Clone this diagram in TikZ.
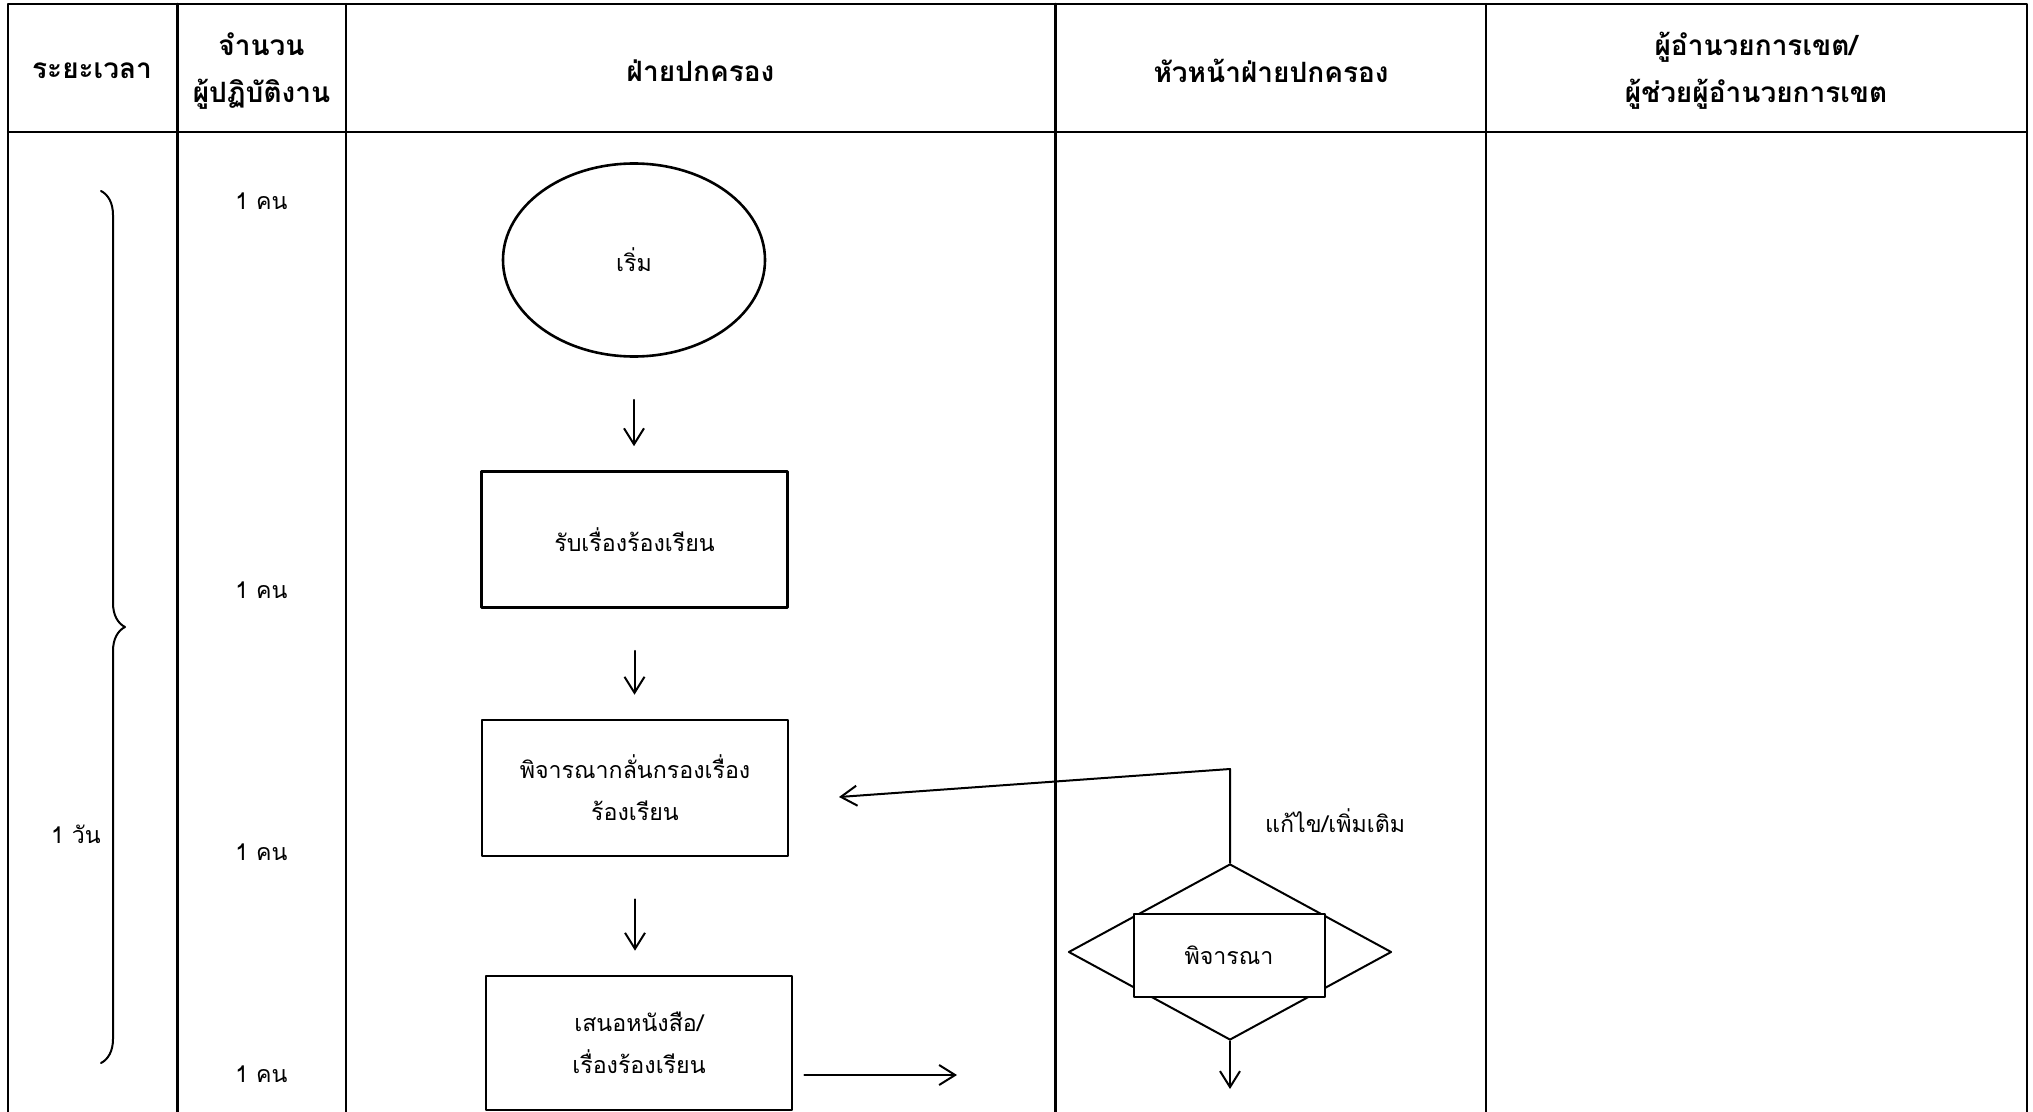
\documentclass[tikz,border=0pt]{standalone}
\usepackage{fontspec}
\setmainfont[Script=Thai]{Loma}
\usetikzlibrary{shapes.geometric,arrows.meta,decorations.pathreplacing}

\tikzset{
  lane/.style={line width=1.2pt},
  head/.style={font=\bfseries\fontsize{14}{23.5}\selectfont,align=center},
  txt/.style={font=\fontsize{11.6}{21}\selectfont,align=center},
  stepbox/.style={draw,line width=1.3pt,minimum width=153pt,minimum height=68pt,txt},
  flow/.style={-{Straight Barb[length=8pt,width=10pt]},line width=1pt},
  gap/.style={shorten <=21pt,shorten >=12pt},
}

\begin{document}
\begin{tikzpicture}[x=0.5pt,y=-0.5pt,line cap=round,line join=round]
  \useasboundingbox (0,0) rectangle (2033,1112);
  % table
  \draw[lane] (8,1112) -- (8,4) -- (2027,4) -- (2027,1112);
  \draw[lane] (8,132) -- (2027,132);
  \foreach \x in {177.5,346,1055.5,1486}
    \draw[lane] (\x,4) -- (\x,1112);

  \node[head] (hTime) at (92,71) {ระยะเวลา};
  \node[head] (hStaff) at (261.5,71) {จำนวน\\ผู้ปฏิบัติงาน};
  \node[head] (hAdmin) at (700.5,71) {ฝ่ายปกครอง};
  \node[head] (hChief) at (1271,71) {หัวหน้าฝ่ายปกครอง};
  \node[head] (hDir) at (1756,71) {ผู้อำนวยการเขต/\\ผู้ช่วยผู้อำนวยการเขต};

  % time and staff
  \draw[line width=1pt,decorate,decoration={brace,amplitude=12pt}] (101,191) -- (101,1063);
  \node[txt] (tDay) at (76,834) {1 วัน};
  \foreach \y/\n in {201/1,590/2,852/3,1074/4}
    \node[txt] (n\n) at (261.5,\y) {1 คน};

  % flow
  \node[draw,ellipse,line width=1.3pt,minimum width=131pt,minimum height=96.5pt,txt] (start) at (634,260) {เริ่ม};
  \node[stepbox] (recv) at (634.5,539.5) {รับเรื่องร้องเรียน};
  \node[stepbox] (screen) at (635,788) {พิจารณากลั่นกรองเรื่อง\\ร้องเรียน};
  \node[stepbox,minimum height=67pt] (submit) at (639,1043) {เสนอหนังสือ/\\เรื่องร้องเรียน};

  \draw[flow,gap] (start.south) -- (start.south |- recv.north);
  \draw[flow,gap] (recv.south) -- (recv.south |- screen.north);
  \draw[flow,gap] (screen.south) -- (screen.south |- submit.north);

  % decision
  \node[draw,diamond,line width=1pt,minimum width=161.5pt,minimum height=88pt,inner sep=0pt] (chk) at (1230,952) {};
  \node[draw,fill=white,line width=1pt,minimum width=95.5pt,minimum height=41.5pt,txt] (chkbox) at (1229,955) {พิจารณา};
  \node[txt,anchor=west] (fix) at (1258,821) {แก้ไข/เพิ่มเติม};
  \coordinate (bend) at (1230,769);
  \coordinate (back) at (839,797);
  \draw[flow] (chk.north) -- (bend) -- (back);

  \coordinate (fwd) at (957,1075);
  \draw[flow,shorten <=5.5pt] (submit.east |- fwd) -- (fwd);
  \coordinate (down) at (1230,1089);
  \draw[flow] (chk.south) -- (down);
\end{tikzpicture}
\end{document}
